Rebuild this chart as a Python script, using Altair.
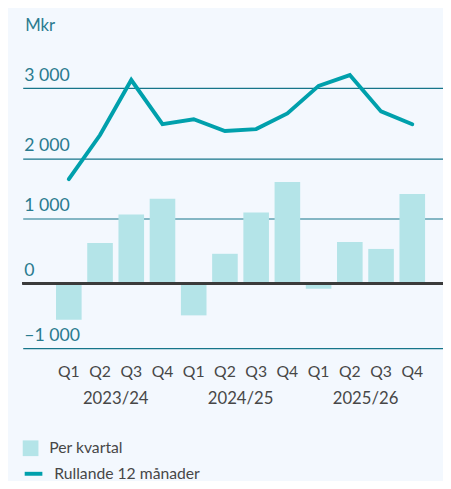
import altair as alt
import pandas as pd

years = ["2023/24", "2024/25", "2025/26"]
quarters = ["Q1", "Q2", "Q3", "Q4"]
per_kvartal = [-561, 621, 1061, 1303, -495, 455, 1091, 1561, -86, 636, 530, 1379]
rullande = [1708, 2333, 3111, 2486, 2556, 2389, 2417, 2639, 3028, 3181, 2667, 2486]
bar_ticks = [-1000, 0, 1000]
line_ticks = [2000, 3000]
bar_domain = [-1000, 3697]
line_domain = [-681, 3625]

periods = [f"{y} {q}" for y in years for q in quarters]
df = pd.DataFrame({
    "period": periods,
    "kvartal": per_kvartal,
    "rullande": rullande,
    "s1": "Per kvartal",
    "s2": "Rullande 12 månader",
})
year_df = pd.DataFrame({"period": [f"{y} Q2" for y in years], "year": years})

FONT = "Lato"
W = "normal"
TEAL_TEXT = "#2a7b8f"
GRID = "#16758a"
BAR = "#b4e4e8"
LINE = "#00a0ac"
GREY = "#474747"

num_expr = ("datum.value < 0 ? '\u2013' + replace(format(-datum.value, ',d'), ',', ' ')"
            " : replace(format(datum.value, ',d'), ',', ' ')")

x_enc = alt.X(
    "period:N",
    scale=alt.Scale(domain=periods, paddingInner=0.18, paddingOuter=0.82, align=0.65),
    axis=alt.Axis(
        labelExpr="split(datum.value, ' ')[1]",
        labelAngle=0, ticks=False, domain=False, grid=False,
        labelFont=FONT, labelFontSize=16, labelFontWeight=W, labelColor=GREY, labelPadding=16,
        title=None,
    ),
)

def y_axis(values, title=None):
    kw = dict(
        orient="left", values=values, grid=True, gridColor=GRID, gridWidth=1.2,
        domain=False, ticks=False, labelAlign="left", labelBaseline="alphabetic",
        labelOffset=-8, labelPadding=-1, labelFont=FONT, labelFontSize=18, labelFontWeight=W,
        labelColor=TEAL_TEXT, labelExpr=num_expr,
    )
    if title:
        kw.update(title=title, titleAngle=0, titleAlign="left", titleBaseline="alphabetic",
                  titleX=2, titleY=-13, titleFont=FONT, titleFontSize=17,
                  titleFontWeight=W, titleColor=TEAL_TEXT)
    else:
        kw.update(title=None)
    return alt.Axis(**kw)

bars = alt.Chart(df).mark_bar().encode(
    x=x_enc,
    y=alt.Y("kvartal:Q", scale=alt.Scale(domain=bar_domain, nice=False, zero=False),
            axis=y_axis(bar_ticks, "Mkr")),
    fill=alt.Fill("s1:N", scale=alt.Scale(domain=["Per kvartal"], range=[BAR]),
                  legend=alt.Legend(title=None, orient="none", legendX=0, legendY=404,
                                    symbolType="square", symbolSize=256, symbolStrokeWidth=0,
                                    labelFont=FONT, labelFontSize=16, labelFontWeight=W,
                                    labelColor=GREY, labelOffset=11, padding=0)),
)

zero = alt.Chart(df).mark_rule(color="#3b3b3b", strokeWidth=2.5).encode(
    y=alt.datum(0, type="quantitative",
                scale=alt.Scale(domain=bar_domain, nice=False, zero=False), axis=None),
)

line = alt.Chart(df).mark_line(strokeWidth=4, strokeJoin="miter", strokeCap="round").encode(
    x=x_enc,
    y=alt.Y("rullande:Q", scale=alt.Scale(domain=line_domain, nice=False, zero=False),
            axis=y_axis(line_ticks)),
    stroke=alt.Stroke("s2:N", scale=alt.Scale(domain=["Rullande 12 månader"], range=[LINE]),
                      legend=alt.Legend(title=None, orient="none", legendX=0, legendY=427,
                                        symbolType="stroke", symbolSize=324, symbolStrokeWidth=4,
                                        labelFont=FONT, labelFontSize=16, labelFontWeight=W,
                                        labelColor=GREY, labelOffset=10, padding=0)),
)

year_text = alt.Chart(year_df).mark_text(
    font=FONT, fontSize=17, fontWeight=W, color=GREY, dx=16, baseline="alphabetic", align="center"
).encode(
    x=x_enc,
    y=alt.value(367),
    text="year:N",
)

chart = alt.layer(bars, zero, line, year_text).resolve_scale(
    y="independent"
).resolve_legend(fill="independent", stroke="independent").properties(
    width=428, height=310,
    padding={"left": 15, "top": 32, "right": 0, "bottom": 131},
    autosize="none",
    background="#f3f8fe",
).configure_view(stroke=None)

chart.save("out.html", embed_options={"renderer": "svg", "actions": False})
